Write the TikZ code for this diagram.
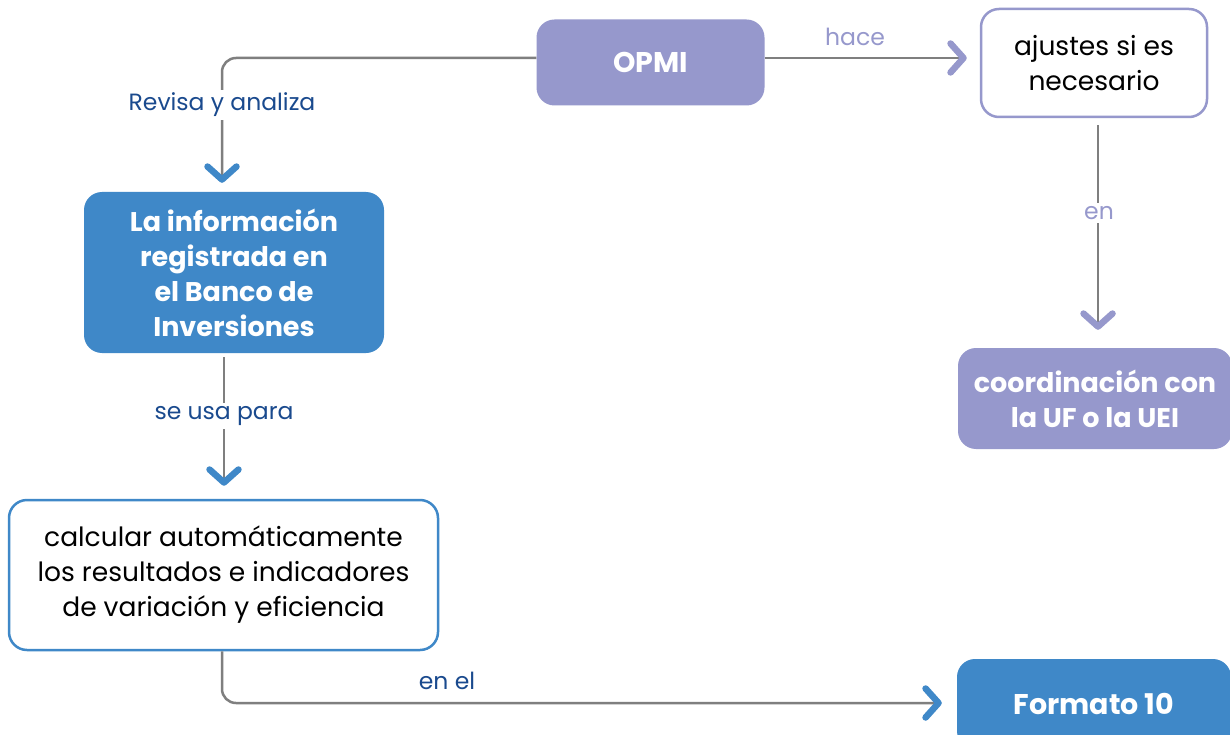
\documentclass[tikz,border=0pt]{standalone}
\usepackage{fontspec}
\setmainfont{Poppins}
\usetikzlibrary{arrows.meta}
\definecolor{lav}{HTML}{9698CC}
\definecolor{blu}{HTML}{3F88C8}
\definecolor{lbl}{HTML}{1A4A8E}
\definecolor{lin}{HTML}{7F7F7F}
\begin{document}
\begin{tikzpicture}[x=1pt,y=-1pt,
  box/.style={rounded corners=18pt, align=center, inner sep=0pt, font=\fontsize{26.5}{35}\selectfont},
  lavfill/.style={box, fill=lav, text=white, font=\fontsize{27}{35}\selectfont\bfseries},
  blufill/.style={box, fill=blu, text=white, font=\fontsize{27}{35}\selectfont\bfseries},
  lavline/.style={box, draw=lav, line width=2.5pt, fill=white, text=black},
  bluline/.style={box, draw=blu, line width=2.5pt, fill=white, text=black},
  conn/.style={draw=lin, line width=2.5pt, rounded corners=14pt},
  tipB/.style={-{Straight Barb[length=13pt,width=29pt,line width=6.5pt,round,color=blu]}},
  tipL/.style={-{Straight Barb[length=13pt,width=29pt,line width=6.5pt,round,color=lav]}},
  lab/.style={fill=white, inner sep=3pt, text=lbl, font=\fontsize{23.5}{28}\selectfont},
  labL/.style={fill=white, inner sep=3pt, text=lav, font=\fontsize{23.5}{28}\selectfont},
]
\useasboundingbox (0,0) rectangle (1230,735);
\fill[white] (0,0) rectangle (1230,735);

\node[lavfill, minimum width=228pt, minimum height=86pt, font=\fontsize{28.5}{35}\selectfont\bfseries] (opmi) at (650.5,62.5) {OPMI};
\node[lavline, minimum width=226pt, minimum height=108pt] (aj) at (1094,63) {\rule{0pt}{4pt}ajustes si es\\necesario};
\node[lavfill, minimum width=274pt, minimum height=101pt] (coord) at (1095,398.5) {coordinación con\\la UF o la UEI};
\node[blufill, minimum width=300pt, minimum height=161pt] (info) at (234,272.5) {La información\\registrada en\\el Banco de\\Inversiones};
\node[bluline, minimum width=429pt, minimum height=150pt] (calc) at (223.5,575) {calcular automáticamente\\los resultados e indicadores\\de variación y eficiencia};
\node[blufill, minimum width=274pt, minimum height=90pt, font=\fontsize{28.5}{35}\selectfont\bfseries] (fmt) at (1094,704) {Formato 10};

\draw[conn, tipB, shorten >=9pt] ([yshift=4.5pt]opmi.west) -| ([xshift=-12pt]info.north);
\draw[conn, tipL, shorten >=13pt] ([yshift=4.5pt]opmi.east) -- ([yshift=4.5pt]opmi.east -| aj.west);
\draw[conn, tipL, shorten <=7pt, shorten >=18pt] ([xshift=4pt]aj.south) -- ([xshift=4pt]aj.south |- coord.north);
\draw[conn, tipB, shorten <=4pt, shorten >=13pt] ([xshift=-10pt]info.south) -- ([xshift=-10pt]info.south |- calc.north);
\draw[conn, tipB, shorten >=15pt] ([xshift=-1.5pt]calc.south) |- ([yshift=1pt]fmt.west);

\node[lab] (l1) at (222,105) {Revisa y analiza};
\node[labL, fill=none] (l2) at (855,37) {hace};
\node[labL] (l3) at (1099,213) {en};
\node[lab] (l4) at (224,416) {se usa para};
\node[lab, fill=none] (l5) at (447,681) {en el};
\end{tikzpicture}
\end{document}
